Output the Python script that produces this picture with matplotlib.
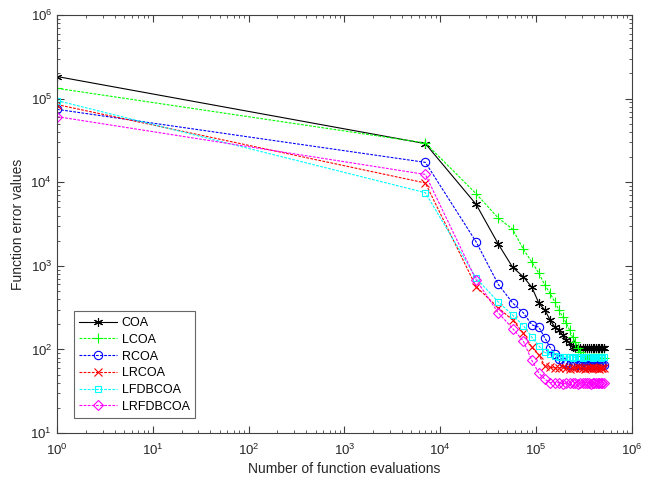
import numpy as np
import matplotlib
matplotlib.use('Agg')
import matplotlib.pyplot as plt
from matplotlib.ticker import NullFormatter

plt.rcParams['font.family'] = ['Liberation Sans', 'DejaVu Sans']

# evaluation counts at which the error was recorded
fes = [1, 7000, 23700, 40400, 57100, 73800, 90500, 107200, 123900, 140600,
       157300, 174000, 190700, 207400, 224100, 240800, 257500, 274200,
       290900, 307600, 324300, 341000, 357700, 374400, 391100, 407800,
       424500, 441200, 457900, 474600, 491300, 508000]

coa = [184000, 29000, 5450, 1820, 960, 740, 555, 357, 295, 224, 185, 170,
       148, 129, 119, 106, 105, 104, 105, 104, 103, 104, 105, 104, 104, 103,
       104, 104, 103, 104, 104, 104]
lcoa = [133000, 29500, 7300, 3730, 2740, 1580, 1110, 815, 585, 470, 367, 295,
        243, 206, 170, 140, 122, 105, 92, 84, 80, 79, 79, 79, 78, 79, 79, 78,
        79, 79, 79, 79]
rcoa = [74500, 17300, 1940, 600, 360, 274, 197, 185, 137, 105, 88, 76, 70,
        67, 66, 66, 66, 65, 66, 66, 65, 66, 66, 66, 65, 66, 66, 65, 66, 66,
        66, 66]
lrcoa = [85000, 9800, 565, 315, 224, 157, 106, 86, 63, 61, 60, 60, 61, 60,
         59, 60, 60, 61, 60, 60, 59, 60, 60, 60, 61, 60, 60, 60, 59, 60, 60, 60]
lfdbcoa = [95000, 7500, 715, 370, 257, 193, 140, 110, 92, 87, 84, 82, 81, 81,
           81, 80, 81, 81, 81, 80, 81, 81, 81, 81, 80, 81, 81, 81, 81, 80, 81, 81]
lrfdbcoa = [61000, 12400, 680, 274, 178, 126, 74, 52, 44, 40, 40, 40, 39, 40,
            40, 40, 40, 39, 40, 40, 40, 40, 40, 39, 40, 40, 40, 40, 40, 40, 40, 40]

names = ['COA', 'LCOA', 'RCOA', 'LRCOA', 'LFDBCOA', 'LRFDBCOA']
series = [coa, lcoa, rcoa, lrcoa, lfdbcoa, lrfdbcoa]
colors = ['#000000', '#00ff00', '#0000ff', '#ff0000', '#00ffff', '#ff00ff']
markers = [(6, 2, 0), '+', 'o', 'x', 's', 'D']
msizes = [6.5, 7.5, 6, 6, 5, 5]
dash = (0, (2.5, 1.2))
styles = ['-', dash, dash, dash, dash, dash]

fig = plt.figure(figsize=(6.52, 4.86), dpi=100)
ax = fig.add_axes([0.0874, 0.109, 0.8816, 0.86])

for name, vals, c, m, ms, ls in zip(names, series, colors, markers, msizes, styles):
    ax.plot(fes, vals, color=c, linestyle=ls, linewidth=0.8, marker=m,
            markersize=ms, markerfacecolor='none', markeredgecolor=c,
            markeredgewidth=0.8, label=name)

ax.set_xscale('log')
ax.set_yscale('log')
ax.set_xlim(1, 1e6)
ax.set_ylim(10, 1e6)
# no labels on the minor log ticks
ax.xaxis.set_minor_formatter(NullFormatter())
ax.yaxis.set_minor_formatter(NullFormatter())

for s in ax.spines.values():
    s.set_color('#404040')
    s.set_linewidth(0.8)
ax.tick_params(which='both', direction='in', top=True, right=True,
               colors='#404040', labelcolor='#262626', labelsize=9.5)
ax.tick_params(which='major', length=5)
ax.tick_params(which='minor', length=2.5)
ax.tick_params(axis='x', which='major', pad=7)

ax.set_xlabel('Number of function evaluations', fontsize=10, color='#262626',
              labelpad=3)
ax.set_ylabel('Function error values', fontsize=10, color='#262626')

leg = ax.legend(loc='lower left', bbox_to_anchor=(0.018, 0.02), fontsize=9,
                frameon=True, fancybox=False, handlelength=3.0,
                borderpad=0.45, labelspacing=0.38, handletextpad=0.4)
leg.get_frame().set_edgecolor('#404040')
leg.get_frame().set_linewidth(0.8)

fig.savefig('out.png', dpi=100)
